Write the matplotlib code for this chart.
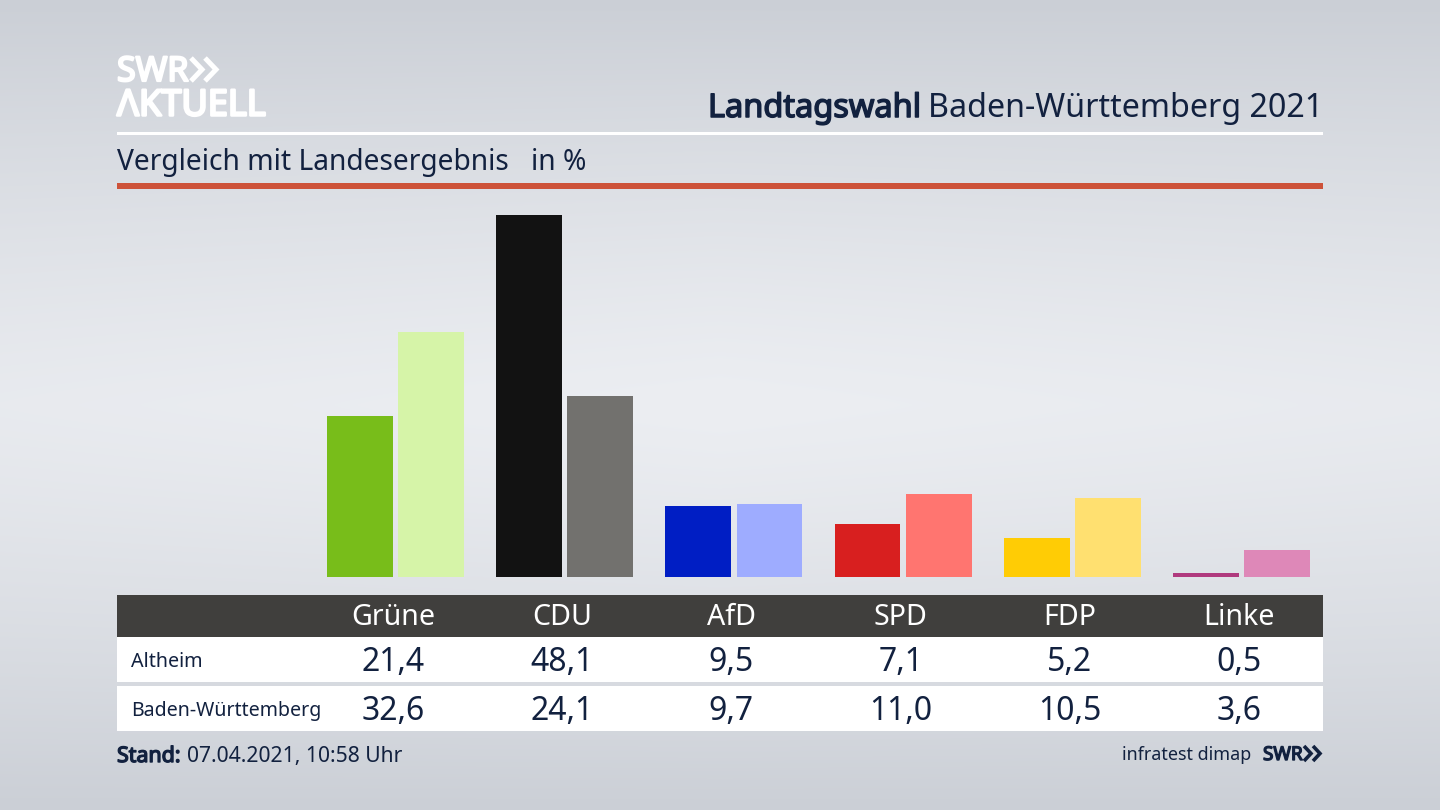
import numpy as np
import matplotlib
matplotlib.use("Agg")
import matplotlib.pyplot as plt
from matplotlib.patches import Rectangle
import matplotlib.patheffects as pe

parties = ["Grüne", "CDU", "AfD", "SPD", "FDP", "Linke"]
altheim = [21.4, 48.1, 9.5, 7.1, 5.2, 0.5]
landesergebnis = [32.6, 24.1, 9.7, 11.0, 10.5, 3.6]
colors_a = ["#78bd1a", "#121212", "#001ec4", "#d81f1f", "#ffcc05", "#b03a7e"]
colors_b = ["#d6f4a8", "#72716e", "#9eacff", "#ff7570", "#ffe070", "#de88b8"]
row_names = ["Altheim", "Baden-Württemberg"]

NAVY = "#12213f"
plt.rcParams["font.family"] = ["Noto Sans", "DejaVu Sans"]

W, H = 1440, 810
fig = plt.figure(figsize=(W / 100, H / 100), dpi=100)

# background gradient
bg = fig.add_axes([0, 0, 1, 1], zorder=0)
yy, xx = np.mgrid[0:1:405j, 0:1:720j]
light = 1 - np.clip(np.abs(yy - 0.5) / 0.5, 0, 1) ** 1.3
light = light * (1 - 0.12 * np.abs(xx - 0.5) * 2)
top = np.array([0xcb, 0xcf, 0xd6]) / 255
mid = np.array([0xec, 0xee, 0xf2]) / 255
img = top + (mid - top) * light[..., None]
bg.imshow(img, extent=(0, W, H, 0), aspect="auto", interpolation="bilinear")
bg.set_xlim(0, W)
bg.set_ylim(H, 0)
bg.axis("off")


def rect(x0, y0, x1, y1, color):
    bg.add_patch(Rectangle((x0, y0), x1 - x0, y1 - y0, facecolor=color, edgecolor="none"))


def txt(x, y, s, size, color=NAVY, ha="left", bold=0.0):
    t = bg.text(x, y, s, fontsize=size, color=color, ha=ha, va="baseline")
    if bold:
        t.set_path_effects([pe.withStroke(linewidth=bold, foreground=color)])
    return t


def chevrons(x, y0, y1, w, gap, lw, color):
    ym = (y0 + y1) / 2
    for dx in (0, gap):
        bg.plot([x + dx, x + dx + w, x + dx], [y0, ym, y1], color=color, lw=lw,
                solid_joinstyle="miter", solid_capstyle="butt")


# rules
rect(117, 132, 1323, 135, "white")
rect(117, 183, 1323, 189, "#cd5239")

# logo
txt(117, 81, "SWR", 24.5, "white", bold=1.6)
chevrons(191, 58, 81, 11, 14, 3.6, "white")
txt(117, 115.5, "ΛKTUELL", 26, "white", bold=1.8)

# headline
txt(1323, 117, "Baden-Württemberg 2021", 23.2, ha="right")
txt(921, 117, "Landtagswahl", 23.4, ha="right", bold=1.1)
txt(117, 170, "Vergleich mit Landesergebnis", 20.3)
txt(531, 170, "in %", 20.3)

# table
left_px, right_px = 117, 1323
rect(left_px, 595, right_px, 637, "#403f3d")
rect(left_px, 637, right_px, 682, "white")
rect(left_px, 686, right_px, 731, "white")

# bars
base_px, top_px = 577, 190
first_group_px = 395.5
spacing = 169.2
ax = fig.add_axes([left_px / W, 1 - base_px / H, (right_px - left_px) / W,
                   (base_px - top_px) / H], zorder=1)
ax.patch.set_alpha(0)
ax.axis("off")
ax.set_xlim((left_px - first_group_px) / spacing, (right_px - first_group_px) / spacing)
ax.set_ylim(0, (base_px - top_px) / 7.526)
x = np.arange(len(parties))
bw = 65.7 / spacing
off = 35.6 / spacing
ax.bar(x - off, altheim, bw, color=colors_a)
ax.bar(x + off, landesergebnis, bw, color=colors_b)

fmt = lambda v: f"{v:.1f}".replace(".", ",")
for i, p in enumerate(parties):
    cx = 393 + i * spacing
    txt(cx, 625, p, 20.6, "white", ha="center")
    txt(cx, 671, fmt(altheim[i]), 23, ha="center")
    txt(cx, 720, fmt(landesergebnis[i]), 23, ha="center")

txt(131, 667, row_names[0], 14.2)
txt(131, 716, row_names[1], 14.1)

# footer
txt(117, 762, "Stand:", 15.4, bold=1.0)
txt(187, 762, "07.04.2021, 10:58 Uhr", 15.2)
txt(1251, 760, "infratest dimap", 12.9, ha="right")
txt(1263, 760, "SWR", 13.6, bold=1.0)
chevrons(1304, 746, 761, 7, 9, 2.6, NAVY)

fig.savefig("out.png", dpi=100)
